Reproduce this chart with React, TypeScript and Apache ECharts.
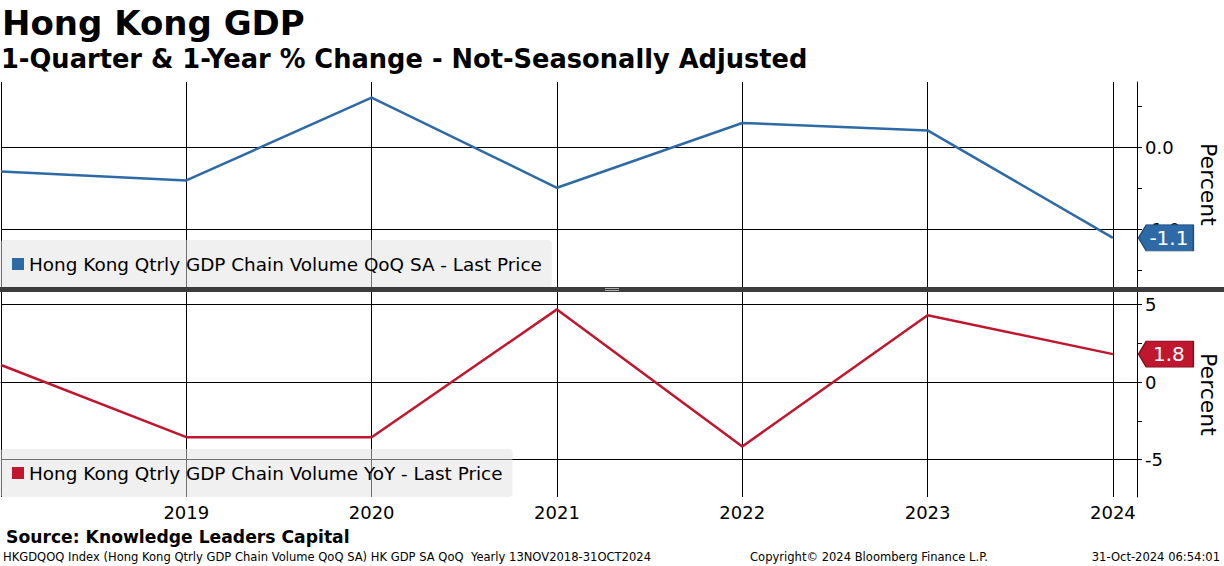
import React, { useEffect, useRef } from "react";
import * as echarts from "echarts";

const years = [2018, 2019, 2020, 2021, 2022, 2023, 2024];
const qoqValues = [-0.29, -0.4, 0.61, -0.49, 0.3, 0.21, -1.1];
const yoyValues = [1.1, -3.55, -3.55, 4.68, -4.15, 4.3, 1.8];
const qoqName = "Hong Kong Qtrly GDP Chain Volume QoQ SA - Last Price";
const yoyName = "Hong Kong Qtrly GDP Chain Volume YoY - Last Price";
const qoqTicks = [-1.5, -1, -0.5, 0, 0.5];
const qoqLabels = [-1, 0];
const yoyTicks = [-5, -2.5, 0, 2.5, 5];
const yoyLabels = [-5, 0, 5];

const FONT = "DejaVu Sans";
const BLUE = "#2e6aa6";
const RED = "#c0172f";

export default function App() {
  const ref = useRef<HTMLDivElement>(null);
  useEffect(() => {
    document.body.style.margin = "0";
    const chart = echarts.init(ref.current!, null, { renderer: "svg" });
    const qoqData = years.map((y, i) => [y, qoqValues[i]]);
    const yoyData = years.map((y, i) => [y, yoyValues[i]]);
    const last = years.length - 1;
    const arrowPath = "path://M0,13 L8,0 L56,0 L56,26 L8,26 Z";

    const xBase = (gridIndex: number, showLabels: boolean) => ({
      type: "value",
      gridIndex,
      min: 2018,
      max: 2024.13,
      interval: 1,
      axisLine: { show: showLabels, lineStyle: { color: "#000", width: 1 } },
      axisTick: { show: showLabels, length: 4, lineStyle: { color: "#000" } },
      axisLabel: {
        show: showLabels,
        showMinLabel: false,
        showMaxLabel: false,
        formatter: (v: number) => String(v),
        fontFamily: FONT,
        fontSize: 18,
        color: "#000",
        margin: 6,
      },
      splitLine: { show: true, lineStyle: { color: "#000", width: 1 } },
    });

    const yMain = (gridIndex: number, min: number, max: number, ticks: number[], labels: number[], fmt: (v: number) => string) => ({
      type: "value",
      gridIndex,
      position: "right",
      min,
      max,
      axisLine: { show: true, onZero: false, lineStyle: { color: "#000", width: 1 } },
      axisTick: { show: true, customValues: ticks, length: 5, lineStyle: { color: "#000" } },
      axisLabel: { show: true, customValues: labels, formatter: fmt, fontFamily: FONT, fontSize: 18, color: "#000", margin: 8 },
      splitLine: { show: false },
      name: "Percent",
      nameLocation: "middle",
      nameRotate: -90,
      nameGap: 60,
      nameTextStyle: { fontFamily: FONT, fontSize: 22, color: "#000" },
    });

    const yGrid = (gridIndex: number, min: number, max: number, lines: number[]) => ({
      type: "value",
      gridIndex,
      position: "right",
      min,
      max,
      axisLine: { show: false },
      axisTick: { show: false, customValues: lines },
      axisLabel: { show: false },
      splitLine: { show: true, lineStyle: { color: "#000", width: 1 } },
    });

    const legendBase = (name: string, top: number) => ({
      data: [name],
      left: 0,
      top,
      icon: "rect",
      itemWidth: 12,
      itemHeight: 12,
      padding: [13, 10, 13, 12],
      backgroundColor: "rgba(226,226,226,0.5)",
      borderRadius: 4,
      selectedMode: false,
      textStyle: { fontFamily: FONT, fontSize: 18.4, color: "#000", lineHeight: 22 },
    });

    const markBox = (color: string, border: string, fmt: string) => ({
      symbol: arrowPath,
      symbolSize: [55, 26],
      symbolOffset: [53, 0],
      symbolKeepAspect: false,
      itemStyle: { color, borderColor: border, borderWidth: 1 },
      label: {
        show: true,
        formatter: fmt,
        color: "#fff",
        fontFamily: FONT,
        fontSize: 20,
        offset: [3, 0],
      },
      silent: true,
    });

    chart.setOption({
      animation: false,
      backgroundColor: "#fff",
      grid: [
        { left: 1, right: 87, top: 82, height: 205, outerBoundsMode: "none", containLabel: false },
        { left: 1, right: 87, top: 292, height: 205, outerBoundsMode: "none", containLabel: false },
      ],
      xAxis: [xBase(0, false), xBase(1, true)],
      yAxis: [
        yMain(0, -1.7, 0.8, qoqTicks, qoqLabels, (v: number) => v.toFixed(1)),
        yGrid(0, -1.7, 0.8, qoqLabels),
        yMain(1, -7.4, 5.8, yoyTicks, yoyLabels, (v: number) => String(v)),
        yGrid(1, -7.4, 5.8, yoyLabels),
      ],
      legend: [legendBase(qoqName, 240), legendBase(yoyName, 449)],
      series: [
        {
          name: qoqName,
          type: "line",
          xAxisIndex: 0,
          yAxisIndex: 0,
          data: qoqData,
          color: BLUE,
          symbol: "none",
          lineStyle: { width: 2.5, color: BLUE },
          markPoint: {
            ...markBox(BLUE, "#1d4a78", qoqValues[last].toFixed(1)),
            data: [{ coord: qoqData[last] }],
          },
        },
        {
          name: yoyName,
          type: "line",
          xAxisIndex: 1,
          yAxisIndex: 2,
          data: yoyData,
          color: RED,
          symbol: "none",
          lineStyle: { width: 2.5, color: RED },
          markPoint: {
            ...markBox(RED, "#7a0e1e", yoyValues[last].toFixed(1)),
            data: [{ coord: yoyData[last] }],
          },
        },
      ],
      graphic: [
        { type: "rect", shape: { x: 0, y: 287, width: 1224, height: 5 }, style: { fill: "#3c3c3c" }, z: 10 },
        { type: "rect", shape: { x: 605, y: 288, width: 14, height: 1 }, style: { fill: "#aaaaaa" }, z: 11 },
        { type: "rect", shape: { x: 605, y: 290, width: 14, height: 1 }, style: { fill: "#aaaaaa" }, z: 11 },
        { type: "text", x: 2, y: 23, style: { text: "Hong Kong GDP", fontFamily: FONT, fontWeight: "bold", fontSize: 34, fill: "#000", verticalAlign: "middle" } },
        { type: "text", x: 1, y: 59, style: { text: "1-Quarter & 1-Year % Change - Not-Seasonally Adjusted", fontFamily: FONT, fontWeight: "bold", fontSize: 25.7, fill: "#000", verticalAlign: "middle" } },
        { type: "text", x: 6, y: 537, style: { text: "Source: Knowledge Leaders Capital", fontFamily: FONT, fontWeight: "bold", fontSize: 17.2, fill: "#000", verticalAlign: "middle" } },
        { type: "text", x: 3, y: 557, style: { text: "HKGDQOQ Index (Hong Kong Qtrly GDP Chain Volume QoQ SA) HK GDP SA QoQ  Yearly 13NOV2018-31OCT2024", fontFamily: FONT, fontSize: 11.55, fill: "#000", verticalAlign: "middle" } },
        { type: "text", x: 750, y: 557, style: { text: "Copyright© 2024 Bloomberg Finance L.P.", fontFamily: FONT, fontSize: 11.55, fill: "#000", verticalAlign: "middle" } },
        { type: "text", x: 1220, y: 557, style: { text: "31-Oct-2024 06:54:01", fontFamily: FONT, fontSize: 11.55, fill: "#000", align: "right", verticalAlign: "middle" } },
      ],
    });
    return () => chart.dispose();
  }, []);
  return <div ref={ref} style={{ width: 1224, height: 566 }} />;
}
